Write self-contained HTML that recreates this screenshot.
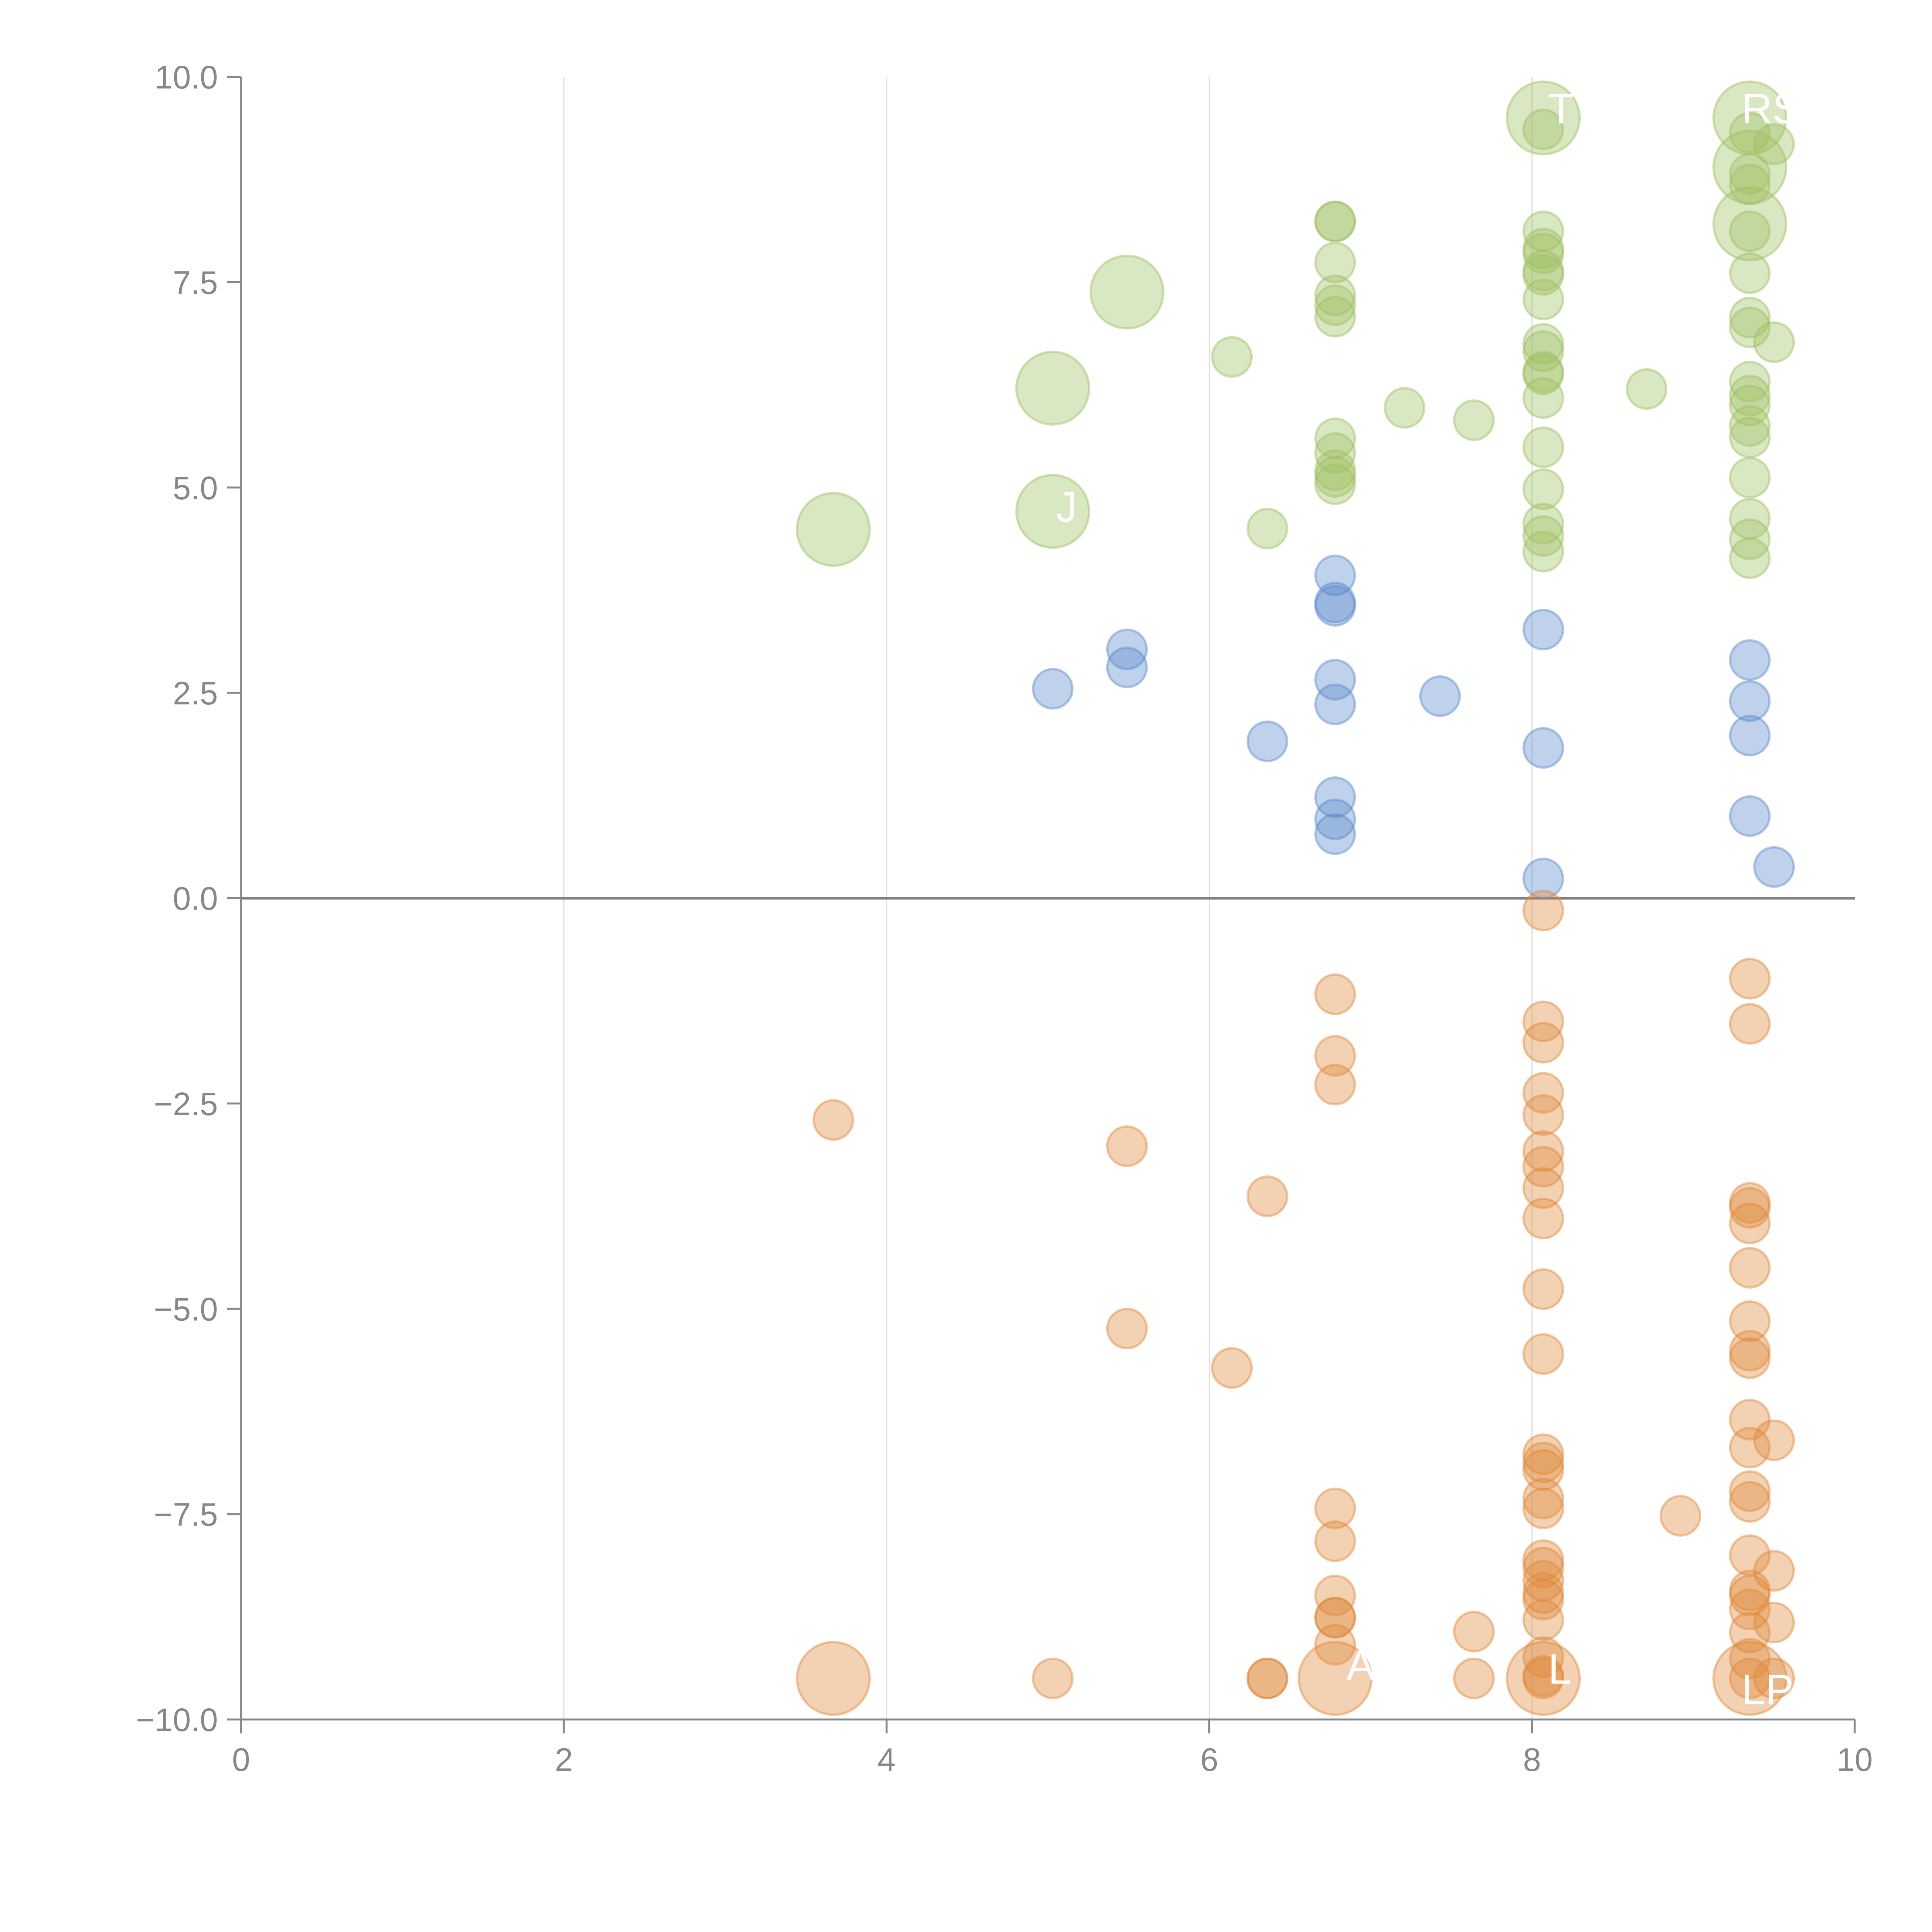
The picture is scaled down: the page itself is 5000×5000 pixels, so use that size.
<!DOCTYPE html>
<html><head><meta charset="utf-8"><style>
html,body{margin:0;padding:0;background:#fff;}
svg{display:block;font-family:"Liberation Sans",Arial,sans-serif;}
</style></head><body>
<svg id="chart" width="5000" height="5000" viewBox="0 0 5000 5000" xmlns="http://www.w3.org/2000/svg">
<g id="grid"></g>
<g id="axes"></g>
<g id="marks"></g>
<g id="labels"></g>
</svg>
<script>
const xTicks = [0, 2, 4, 6, 8, 10];
const yTicks = [10, 7.5, 5, 2.5, 0, -2.5, -5, -7.5, -10];
const yTickLabels = ["10.0", "7.5", "5.0", "2.5", "0.0", "\u22122.5", "\u22125.0", "\u22127.5", "\u221210.0"];

const greenX = [3.67,5.03,5.03,5.49,6.14,6.36,6.78,6.78,6.78,6.78,6.78,6.78,6.78,6.78,6.78,6.78,6.78,7.21,7.64,
 8.07,8.07,8.07,8.07,8.07,8.07,8.07,8.07,8.07,8.07,8.07,8.07,8.07,8.07,8.07,8.07,8.07,8.07,8.71,
 9.35,9.35,9.35,9.35,9.35,9.35,9.35,9.35,9.35,9.35,9.35,9.35,9.35,9.35,9.35,9.35,9.35,9.35,9.35,9.50,9.50];
const greenY = [4.49,6.21,4.71,7.38,6.59,4.50,8.24,8.24,7.74,7.34,7.22,7.08,5.60,5.42,5.21,5.13,5.04,5.97,5.82,
 9.50,9.36,8.12,7.91,7.85,7.64,7.59,7.29,6.75,6.66,6.41,6.38,6.09,5.49,4.98,4.56,4.41,4.22,6.20,
 9.50,9.32,8.90,8.82,8.69,8.21,8.12,7.61,7.07,6.95,6.29,6.12,6.00,5.75,5.61,5.12,4.62,4.37,4.14,9.18,6.77];
const greenS = [3.4,3.4,3.4,3.4,1,1,1,1,1,1,1,1,1,1,1,1,1,1,1,
 3.4,1,1,1,1,1,1,1,1,1,1,1,1,1,1,1,1,1,1,
 3.4,1,3.4,1,1,3.4,1,1,1,1,1,1,1,1,1,1,1,1,1,1,1];

const blueX = [5.03,5.49,5.49,6.36,6.78,6.78,6.78,6.78,6.78,6.78,6.78,6.78,7.43,8.07,8.07,8.07,9.35,9.35,9.35,9.35,9.50];
const blueY = [2.55,3.03,2.81,1.91,3.93,3.60,3.56,2.66,2.36,1.23,0.96,0.78,2.46,3.27,1.83,0.24,2.90,2.40,1.98,1.00,0.38];

const orangeX = [3.67,3.67,5.03,5.49,5.49,6.14,6.36,6.36,6.36,
 6.78,6.78,6.78,6.78,6.78,6.78,6.78,6.78,6.78,6.78,7.64,7.64,
 8.07,8.07,8.07,8.07,8.07,8.07,8.07,8.07,8.07,8.07,8.07,8.07,8.07,8.07,8.07,8.07,8.07,8.07,8.07,8.07,8.07,8.07,8.07,8.07,8.07,8.07,
 8.92,
 9.35,9.35,9.35,9.35,9.35,9.35,9.35,9.35,9.35,9.35,9.35,9.35,9.35,9.35,9.35,9.35,9.35,9.35,9.35,9.35,9.35,
 9.50,9.50,9.50,9.50];
const orangeY = [-2.70,-9.5,-9.5,-3.02,-5.24,-5.72,-3.63,-9.5,-9.5,
 -1.17,-1.92,-2.27,-7.43,-7.83,-8.49,-8.76,-8.76,-9.09,-9.5,-8.93,-9.5,
 -0.15,-1.50,-1.76,-2.37,-2.64,-3.08,-3.27,-3.53,-3.90,-4.76,-5.55,-6.77,-6.87,-6.96,-7.31,-7.43,-8.06,-8.15,-8.31,-8.46,-8.54,-8.79,-9.24,-9.47,-9.5,-9.5,
 -7.52,
 -0.98,-1.53,-3.71,-3.77,-3.96,-4.50,-5.15,-5.51,-5.60,-6.35,-6.69,-7.22,-7.35,-8.00,-8.43,-8.49,-8.66,-8.94,-9.26,-9.5,-9.5,
 -6.60,-8.19,-8.82,-9.5];
const orangeS = [1,3.4,1,1,1,1,1,1,1,
 1,1,1,1,1,1,1,1,1,3.4,1,1,
 1,1,1,1,1,1,1,1,1,1,1,1,1,1,1,1,1,1,1,1,1,1,1,1,3.4,1,
 1,
 1,1,1,1,1,1,1,1,1,1,1,1,1,1,1,1,1,1,1,3.4,1,
 1,1,1,1];

const NS = "http://www.w3.org/2000/svg";
const X0 = 624, X1 = 4800, Y0 = 4450, Y1 = 199;
function sx(v){ return X0 + (v - 0) / 10 * (X1 - X0); }
function sy(v){ return Y0 - (v + 10) / 20 * (Y0 - Y1); }
function rad(s){ return 51 * Math.sqrt(s); }
function mk(tag, attrs, parent){
  const e = document.createElementNS(NS, tag);
  for (const k in attrs) e.setAttribute(k, attrs[k]);
  parent.appendChild(e); return e;
}
const grid = document.getElementById('grid');
const axes = document.getElementById('axes');
const marks = document.getElementById('marks');
const labels = document.getElementById('labels');

xTicks.forEach(function(t){
  if (t > 0 && t < 10) {
    const g = mk('line', {x1: sx(t), x2: sx(t), y1: sy(10), y2: sy(-10), stroke: '#dedede', 'stroke-width': 3}, grid);
    
    
  }
  const tk = mk('line', {x1: sx(t), x2: sx(t), y1: Y0, y2: Y0 + 36, stroke: '#888', 'stroke-width': 5}, axes);
  
  
  const tx = mk('text', {x: sx(t), y: Y0 + 133, 'text-anchor': 'middle', 'font-size': 84, fill: '#888'}, axes);
  tx.textContent = String(t);
  
  
});
yTicks.forEach(function(t, i){
  const tk = mk('line', {x1: X0 - 36, x2: X0, y1: sy(t), y2: sy(t), stroke: '#888', 'stroke-width': 5}, axes);
  
  
  const tx = mk('text', {x: X0 - 60, y: sy(t) + 30, 'text-anchor': 'end', 'font-size': 84, fill: '#888'}, axes);
  tx.textContent = yTickLabels[i];
  
  
});
const ya = mk('line', {x1: X0, x2: X0, y1: Y1, y2: Y0, stroke: '#888', 'stroke-width': 5}, axes);


const xa = mk('line', {x1: X0, x2: X1, y1: Y0, y2: Y0, stroke: '#888', 'stroke-width': 5}, axes);



function series(xs, ys, ss, color, name){
  xs.forEach(function(x, i){
    const c = mk('circle', {cx: sx(x), cy: sy(ys[i]), r: rad(ss ? ss[i] : 1), fill: color, 'fill-opacity': 0.38, stroke: color, 'stroke-opacity': 0.45, 'stroke-width': 6}, marks);
    
    
  });
}
series(greenX, greenY, greenS, '#9ebf62', 'green-bubble');
series(blueX, blueY, null, '#5a8acb', 'blue-bubble');
series(orangeX, orangeY, orangeS, '#e0883a', 'orange-bubble');

const zl = mk('line', {x1: X0, x2: X1, y1: sy(0), y2: sy(0), stroke: '#808080', 'stroke-width': 7}, axes);



const labelText = ["T", "RSI", "J", "L", "A", "LP"];
const labelX = [8.1, 9.3, 5.05, 8.1, 6.85, 9.3];
const labelY = [9.6, 9.6, 4.75, -9.4, -9.35, -9.65];
labelText.forEach(function(t, i){
  const tx = mk('text', {x: sx(labelX[i]), y: sy(labelY[i]) + 35, 'font-size': 110, fill: '#fff'}, labels);
  tx.textContent = t;
  
  
});
</script>
</body></html>
